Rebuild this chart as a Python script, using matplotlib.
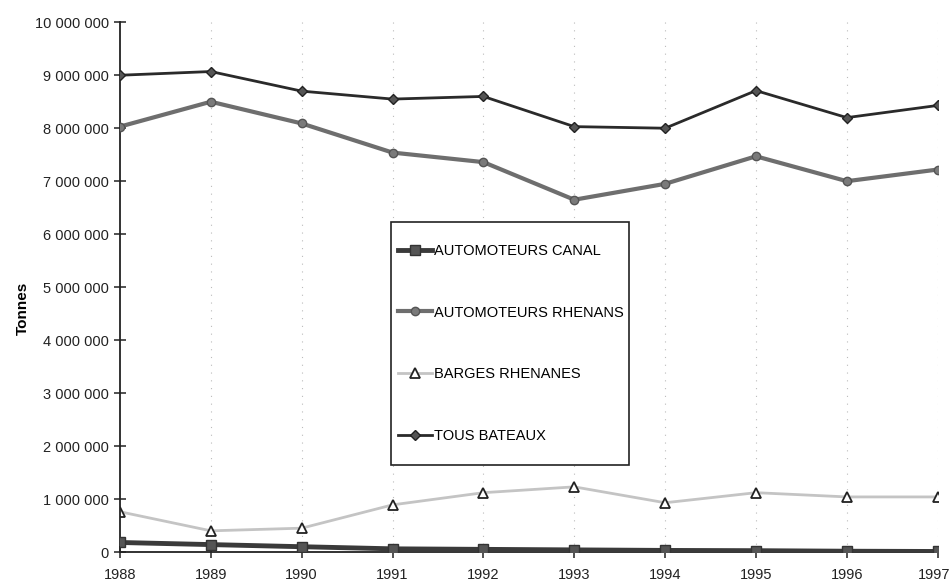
import numpy as np
import matplotlib
matplotlib.use("Agg")
import matplotlib.pyplot as plt
from matplotlib.ticker import FuncFormatter
from matplotlib.patches import Rectangle
from matplotlib.transforms import ScaledTranslation

plt.rcParams['font.family'] = ['Liberation Sans', 'DejaVu Sans']

years = [1988, 1989, 1990, 1991, 1992, 1993, 1994, 1995, 1996, 1997]
canal = [180000, 140000, 100000, 60000, 50000, 40000, 30000, 25000, 15000, 10000]
rhenans = [8030000, 8500000, 8090000, 7540000, 7360000, 6650000, 6950000, 7470000, 7000000, 7220000]
barges = [760000, 400000, 450000, 890000, 1120000, 1230000, 930000, 1120000, 1040000, 1040000]
tous = [9000000, 9070000, 8700000, 8550000, 8600000, 8030000, 8000000, 8710000, 8200000, 8430000]

fig = plt.figure(figsize=(9.52, 5.86), dpi=100)
ax = fig.add_axes([0.126, 0.058, 0.859, 0.904])

# faint dotted verticals at each year
for yr in years[1:]:
    ax.axvline(yr, color='#bbbbbb', linestyle=(0, (1, 6)), linewidth=0.8, zorder=0)

ax.plot(years, barges, color='#c4c4c4', linewidth=2, marker='^', markersize=7,
        markerfacecolor='white', markeredgecolor='#222222', markeredgewidth=1.3,
        label='BARGES RHENANES', zorder=2)
ax.plot(years, rhenans, color='#6e6e6e', linewidth=3, marker='o', markersize=6,
        markerfacecolor='#7a7a7a', markeredgecolor='#555555', label='AUTOMOTEURS RHENANS', zorder=3)
ax.plot(years, tous, color='#2a2a2a', linewidth=2, marker='D', markersize=5,
        markerfacecolor='#555555', markeredgecolor='#222222', label='TOUS BATEAUX', zorder=4)
ax.plot(years, canal, color='#3a3a3a', linewidth=3.5, marker='s', markersize=7,
        markerfacecolor='#555555', markeredgecolor='#333333', label='AUTOMOTEURS CANAL', zorder=5)

ax.set_xlim(1988, 1997)
ax.set_ylim(0, 10000000)
ax.set_xticks(years)
ax.set_yticks(np.arange(0, 10000001, 1000000))
ax.yaxis.set_major_formatter(FuncFormatter(lambda v, p: '{:,.0f}'.format(v).replace(',', ' ')))

for s in ['top', 'right']:
    ax.spines[s].set_visible(False)
for s in ['left', 'bottom']:
    ax.spines[s].set_linewidth(1.3)
    ax.spines[s].set_color('#222222')
ax.tick_params(direction='inout', length=9, width=1.1, labelsize=10.5, colors='#222222')
ax.tick_params(axis='x', pad=7)
ax.set_ylabel('Tonnes', fontsize=11, fontweight='bold')
ax.yaxis.set_label_coords(-0.11, 0.46)

# keep the last year label inside the picture
last = ax.get_xticklabels()[-1]
last.set_transform(last.get_transform() + ScaledTranslation(-4 / 100, 0, fig.dpi_scale_trans))

# legend box drawn by hand, entries placed inside it
box = Rectangle((0.331, 0.164), 0.292, 0.459, transform=ax.transAxes, fill=True,
                facecolor='white', edgecolor='#222222', linewidth=1.2, zorder=6)
ax.add_patch(box)
handles, labels = ax.get_legend_handles_labels()
order = [3, 1, 0, 2]
leg = ax.legend([handles[i] for i in order], [labels[i] for i in order],
                loc='upper left', bbox_to_anchor=(0.340, 0.582), frameon=False,
                fontsize=10.5, labelspacing=3.28, handlelength=2.3, handletextpad=0.15,
                borderpad=0, borderaxespad=0)
leg.set_zorder(7)

fig.savefig('out.png', dpi=100)
